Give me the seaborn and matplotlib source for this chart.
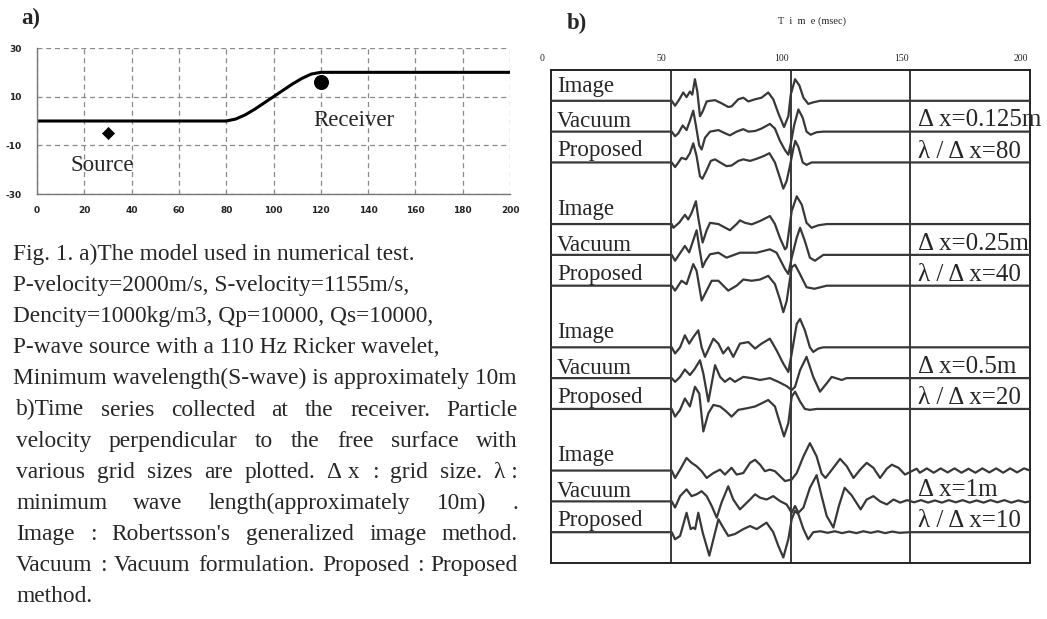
import matplotlib
matplotlib.use("Agg")
import matplotlib.pyplot as plt
import seaborn as sns
from matplotlib.transforms import ScaledTranslation

sns.set_style("white")
plt.rcParams['font.family'] = ['Liberation Serif', 'DejaVu Serif']
plt.rcParams['axes.unicode_minus'] = False

W, H = 1047, 619

# ---------------- panel a : model ----------------
surface_x = [0, 80, 84, 88, 92, 96, 100, 104, 108, 112, 116, 120, 200]
surface_y = [0, 0, 0.8, 2.5, 4.8, 7.4, 10, 12.6, 15.2, 17.5, 19.3, 20, 20]
source_x, source_y = [30], [-5]
receiver_x, receiver_y = [120], [16]
model_xticks = [0, 20, 40, 60, 80, 100, 120, 140, 160, 180, 200]
model_yticks = [-30, -10, 10, 30]

# ---------------- panel b : time series (t in msec, relative amplitude) ----------------
time_ticks = [0, 50, 100, 150, 200]
trace_names = ["Image", "Vacuum", "Proposed"]
grid_labels = ["Δ x=0.125m", "Δ x=0.25m", "Δ x=0.5m", "Δ x=1m"]
ratio_labels = ["λ / Δ x=80", "λ / Δ x=40", "λ / Δ x=20", "λ / Δ x=10"]

g1_image = [(0, 0), (50.4, 0), (51.8, -0.16), (53.6, 0.05), (55.2, 0.27), (56.6, 0.12), (58.0, 0.30),
            (59.0, 0.2), (60.1, 0.70), (61.1, 0.3), (62.2, -0.5), (63.3, -0.35), (65.0, -0.02),
            (66.4, 0.0), (68.5, 0.02), (71.2, -0.08), (74.0, -0.2), (75.4, -0.18), (78.2, 0.05),
            (80.3, 0.1), (82.4, -0.02), (85.2, 0.05), (87.9, 0.1), (90.7, 0.27), (92.8, 0.05),
            (94.9, -0.4), (97.3, -0.85), (99.1, -0.5), (100.1, 0.2), (101.9, 0.70), (103.7, 0.5),
            (105.4, 0.1), (107.4, -0.1), (109.5, -0.05), (112.3, 0.0), (200, 0)]
g1_vacuum = [(0, 0), (50.4, 0), (51.8, -0.15), (53.2, -0.05), (55.0, 0.2), (56.6, 0.05), (58.0, 0.35),
             (59.4, 0.68), (60.5, 0.2), (61.9, -0.45), (62.9, -0.58), (64.3, -0.2), (66.4, 0.0),
             (69.9, 0.05), (72.6, -0.05), (74.7, -0.12), (77.5, 0.0), (80.3, 0.08), (82.4, 0.0),
             (85.2, 0.02), (87.9, 0.1), (91.4, 0.25), (93.5, 0.1), (95.6, -0.3), (97.7, -0.6),
             (99.1, -0.75), (100.1, -0.4), (101.5, 0.2), (103.3, 0.72), (105.1, 0.45), (106.7, 0.0),
             (108.4, -0.1), (110.9, -0.02), (113.7, 0), (200, 0)]
g1_proposed = [(0, 0), (50.4, 0), (51.8, -0.15), (53.2, 0.0), (54.5, 0.15), (56.4, 0.1), (58.0, 0.3),
               (59.4, 0.62), (60.8, 0.2), (62.2, -0.45), (63.2, -0.53), (65.0, -0.25), (66.7, 0.05),
               (68.5, 0.1), (70.6, 0.0), (73.3, -0.12), (75.4, -0.1), (78.2, 0.05), (80.3, 0.1),
               (83.1, 0.05), (85.9, 0.12), (88.6, 0.2), (91.2, 0.3), (93.5, 0.0), (95.6, -0.5),
               (97.0, -0.85), (98.4, -0.6), (99.8, -0.1), (101.2, 0.45), (102.0, 0.7), (103.3, 0.5),
               (105.1, 0.0), (106.7, -0.08), (108.8, 0.0), (200, 0)]

g2_image = [(0, 0), (50.4, 0), (51.1, -0.12), (53.6, 0.05), (55.9, 0.3), (57.3, 0.15), (58.7, 0.36),
            (60.5, 0.74), (61.5, 0.2), (63.3, -0.6), (65.0, -0.2), (66.4, 0.04), (69.9, 0.0),
            (74.7, -0.2), (77.5, 0.0), (78.9, 0.12), (81.0, 0.04), (83.8, -0.01), (87.3, 0.1),
            (91.4, 0.26), (93.5, 0.0), (95.6, -0.45), (97.7, -0.82), (98.4, -0.76), (100.5, 0.42),
            (102.6, 0.9), (104.7, 0.63), (106.7, 0.04), (108.8, -0.12), (111.6, -0.04), (115.1, 0),
            (200, 0)]
g2_vacuum = [(0, 0), (50.4, 0), (51.8, -0.19), (55.9, 0.29), (57.7, 0.08), (60.8, 0.8), (62.0, 0.2),
             (63.3, -0.4), (64.5, -0.2), (66.4, 0.02), (69.9, 0.07), (73.3, -0.09), (78.9, 0.07),
             (81.7, 0.07), (85.9, 0.07), (91.4, 0.18), (94.2, 0.07), (97.7, -0.46), (99.1, -0.62),
             (100.5, -0.09), (102.6, 0.56), (104.0, 0.88), (106.0, 0.45), (108.1, -0.09),
             (110.2, -0.19), (113.7, 0), (200, 0)]
g2_proposed = [(0, 0), (50.4, 0), (51.8, -0.16), (54.5, 0.16), (56.6, 0.05), (59.4, 0.7), (60.8, 0.48),
               (62.9, -0.48), (65.0, -0.16), (67.1, 0.16), (69.9, 0.16), (74.0, -0.16), (77.5, 0.0),
               (80.3, 0.2), (83.8, 0.16), (87.3, 0.2), (90.7, 0.32), (93.5, 0.05), (95.6, -0.45),
               (97.0, -0.86), (98.4, -0.5), (100.5, 0.6), (101.9, 0.68), (104.0, 0.37), (106.7, -0.05),
               (110.0, -0.1), (115.1, 0), (200, 0)]

g3_image = [(0, 0), (50.4, 0), (51.8, -0.2), (53.9, 0.0), (55.9, 0.39), (57.7, 0.12), (59.4, 0.33),
            (61.5, 0.55), (62.9, 0.0), (64.3, -0.31), (67.8, 0.28), (69.9, 0.12), (71.9, -0.2),
            (74.0, 0.0), (76.1, -0.31), (78.9, 0.12), (82.4, 0.17), (85.2, -0.04), (87.9, 0.12),
            (91.4, 0.28), (94.2, -0.1), (97.0, -0.53), (99.1, -0.8), (100.5, -0.2), (102.6, 0.76),
            (104.0, 0.92), (106.0, 0.55), (108.1, 0.0), (109.5, -0.15), (111.6, -0.04), (113.7, 0),
            (200, 0)]
g3_vacuum = [(0, 0), (50.4, 0), (51.8, -0.12), (53.9, 0.04), (55.9, 0.28), (58.0, 0.1), (60.1, 0.31),
             (62.2, 0.58), (63.6, 0.15), (65.7, -0.76), (68.5, 0.42), (70.6, 0.04), (72.6, -0.12),
             (74.7, 0.0), (76.8, -0.12), (80.3, 0.04), (83.8, 0.0), (87.3, -0.06), (91.4, 0.0),
             (94.9, -0.12), (98.4, -0.26), (100.5, -0.39), (101.9, -0.28), (104.0, 0.26),
             (106.7, 0.69), (109.5, 0.04), (112.3, -0.44), (115.1, -0.17), (117.2, 0.04),
             (121.4, -0.06), (123.4, 0), (200, 0)]
g3_proposed = [(0, 0), (50.4, 0), (51.8, -0.25), (53.9, -0.03), (55.9, 0.34), (58.0, 0.08), (60.1, 0.72),
               (61.9, 0.5), (63.6, -0.73), (65.7, -0.14), (67.8, 0.13), (70.6, 0.08), (73.3, -0.09),
               (75.4, -0.25), (78.2, -0.03), (81.7, 0.02), (85.2, 0.08), (87.9, 0.18), (90.7, 0.29),
               (93.5, 0.08), (95.6, -0.46), (97.3, -0.89), (99.1, -0.46), (100.5, 0.4), (101.9, 0.56),
               (104.0, 0.24), (106.0, 0.0), (108.1, -0.03), (110.9, 0), (200, 0)]

g4_image = [(0, 0), (50.4, 0), (51.8, -0.24), (53.9, 0.03), (56.6, 0.41), (58.7, 0.25), (60.8, 0.14),
            (62.9, -0.02), (65.0, -0.24), (67.8, -0.08), (70.6, 0.03), (72.6, -0.13), (75.4, 0.09),
            (77.5, -0.13), (80.3, -0.08), (83.1, 0.25), (85.2, 0.35), (87.3, 0.19), (89.3, -0.02),
            (91.4, 0.03), (93.5, -0.02), (95.6, -0.18), (97.7, -0.34), (100.5, -0.29), (102.6, -0.08),
            (105.4, 0.46), (108.1, 0.89), (110.9, 0.46), (113.0, -0.1), (114.6, -0.24), (117.5, 0.05),
            (120.7, 0.38), (123.5, 0.14), (126.3, -0.24), (129.1, 0.03), (131.8, 0.25), (134.6, 0.09),
            (137.4, -0.24), (140.2, 0.06), (142.3, 0.19), (145.1, 0.09), (147.8, -0.13), (150.6, -0.02),
            (152.7, 0.06), (154.0, -0.07), (156.9, 0.07), (159.8, -0.07), (162.7, 0.07), (165.6, -0.06),
            (168.5, 0.07), (171.4, -0.07), (174.3, 0.06), (177.2, -0.07), (180.1, 0.07), (183.0, -0.06),
            (185.9, 0.07), (188.8, -0.07), (191.7, 0.07), (194.6, -0.06), (197.5, 0.07), (200, 0.0)]
g4_vacuum = [(0, 0), (50.4, 0), (51.8, -0.2), (53.9, 0.17), (56.6, 0.39), (58.7, 0.17), (60.8, 0.23),
             (62.9, 0.33), (65.0, 0.17), (67.1, -0.15), (69.2, -0.53), (71.2, -0.04), (74.0, 0.49),
             (76.1, 0.06), (78.9, -0.26), (81.0, -0.1), (83.1, 0.06), (85.2, 0.23), (87.3, 0.12),
             (90.0, 0.06), (92.8, 0.17), (95.6, 0.01), (98.4, -0.1), (100.5, -0.37), (101.9, -0.15),
             (103.3, -0.37), (105.4, -0.2), (108.1, 0.44), (110.9, 0.85), (113.0, 0.17), (115.1, -0.47),
             (117.9, -0.85), (120.2, -0.15), (122.6, 0.44), (125.5, 0.2), (129.3, -0.26), (131.8, 0.06),
             (134.6, 0.17), (137.4, 0.0), (140.2, -0.1), (143.0, 0.06), (145.8, -0.04), (148.7, 0.04),
             (151.6, -0.03), (154.5, 0.04), (157.4, -0.04), (160.3, 0.03), (163.2, -0.04), (166.1, 0.04),
             (169.0, -0.03), (171.9, 0.04), (174.8, -0.04), (177.7, 0.03), (180.6, -0.04), (183.5, 0.04),
             (186.4, -0.03), (189.3, 0.04), (192.2, -0.04), (195.1, 0.03), (198.0, -0.03), (200, 0.0)]
g4_proposed = [(0, 0), (50.4, 0), (51.8, -0.23), (53.9, -0.12), (56.6, 0.63), (58.3, 0.1), (59.4, 0.15),
               (60.2, 0.1), (61.5, 0.63), (63.3, 0.0), (66.1, -0.76), (67.8, -0.23), (69.9, 0.42),
               (71.9, 0.15), (74.0, -0.12), (76.8, -0.06), (80.3, 0.1), (83.1, 0.2), (85.9, 0.1),
               (90.0, 0.31), (92.8, 0.0), (94.9, -0.44), (97.0, -0.82), (99.1, -0.23), (100.5, 0.42),
               (101.9, 0.69), (103.3, 0.58), (105.4, 0.1), (107.4, -0.23), (109.5, 0.0), (112.5, 0.03),
               (115.5, -0.02), (118.5, 0.03), (121.5, -0.03), (124.5, 0.02), (127.5, -0.03),
               (130.5, 0.03), (133.5, -0.02), (136.5, 0.03), (139.5, -0.03), (142.5, 0.02),
               (145.5, -0.02), (150, 0.0), (200, 0.0)]

groups = [
    [g1_image, g1_vacuum, g1_proposed],
    [g2_image, g2_vacuum, g2_proposed],
    [g3_image, g3_vacuum, g3_proposed],
    [g4_image, g4_vacuum, g4_proposed],
]

caption_lines = [
    "Fig. 1. a)The model used in numerical test.",
    "P-velocity=2000m/s, S-velocity=1155m/s,",
    "Dencity=1000kg/m3, Qp=10000, Qs=10000,",
    "P-wave source with a 110 Hz Ricker wavelet,",
    "Minimum wavelength(S-wave) is approximately 10m",
    "b)Time series collected at the receiver. Particle",
    "velocity perpendicular to the free surface with",
    "various grid sizes are plotted. Δ\u00a0x : grid size. λ\u00a0:",
    "minimum wave length(approximately 10m) .",
    "Image : Robertsson's generalized image method.",
    "Vacuum : Vacuum formulation. Proposed : Proposed",
    "method.",
]
caption_justified = [False] * 5 + [True] * 6 + [False]

fig = plt.figure(figsize=(W / 100, H / 100), dpi=100)

# ---- panel a
axa = fig.add_axes([37 / W, 1 - 194 / H, 473 / W, 146 / H])
sns.lineplot(x=surface_x, y=surface_y, ax=axa, color="black", lw=2.2,
             estimator=None, sort=False)
sns.scatterplot(x=source_x, y=source_y, ax=axa, marker="D", s=38, color="black",
                edgecolor="black", zorder=5)
sns.scatterplot(x=receiver_x, y=receiver_y, ax=axa, marker="o", s=100, color="black",
                edgecolor="black", zorder=5)
axa.set_xlim(0, 200)
axa.set_ylim(-30, 30)
axa.set_xticks(model_xticks)
axa.set_yticks(model_yticks)
axa.grid(True, ls=(0, (4, 3)), color="#8a8a8a", lw=0.9)
for s in ["top", "right"]:
    axa.spines[s].set_visible(False)
for s in ["left", "bottom"]:
    axa.spines[s].set_color("#777777")
    axa.spines[s].set_linewidth(1.0)
axa.tick_params(length=0, labelsize=6.5, colors="#222222")
axa.tick_params(axis="x", pad=9)
axa.tick_params(axis="y", pad=11)
for lab in axa.get_xticklabels() + axa.get_yticklabels():
    lab.set_family("DejaVu Sans")
    lab.set_weight("bold")
axa.text(117, -2.2, "Receiver", fontsize=16.5, va="baseline")
axa.text(14, -20.6, "Source", fontsize=16.5, va="baseline")
fig.text(21 / W, 1 - 24 / H, "a)", fontsize=16.5, weight="bold", va="baseline")

# ---- panel b
axb = fig.add_axes([551 / W, 1 - 563 / H, 479 / W, 493 / H])
for t in time_ticks[1:-1]:
    axb.axvline(t, color="#2a2a2a", lw=1.3, zorder=1)
label_offsets = [0.3, 0.14, 0.2]
for g, traces in enumerate(groups):
    for r, tr in enumerate(traces):
        base = -(1 + 4 * g + r)
        sns.lineplot(x=[p[0] for p in tr], y=[base + p[1] for p in tr], ax=axb,
                     color="#383838", lw=1.6, estimator=None, sort=False, zorder=3)
        axb.text(2.5, base + label_offsets[r], trace_names[r], fontsize=16.5,
                 va="baseline", zorder=4)
    axb.text(153.2, -(2 + 4 * g) + 0.17, grid_labels[g], fontsize=18,
             va="baseline", zorder=4, clip_on=False)
    axb.text(153.2, -(3 + 4 * g) + 0.16, ratio_labels[g], fontsize=18,
             va="baseline", zorder=4)
axb.set_xlim(0, 200)
axb.set_ylim(-16, 0)
axb.set_yticks([])
axb.xaxis.tick_top()
axb.set_xticks(time_ticks)
axb.tick_params(axis="x", length=0, pad=5, labelsize=7, colors="#222222")
shift = ScaledTranslation(-9 / 100, 0, fig.dpi_scale_trans)
for lab in axb.get_xticklabels():
    lab.set_transform(lab.get_transform() + shift)
for s in axb.spines.values():
    s.set_color("#222222")
    s.set_linewidth(1.4)
axb.text((812 - 551) / 479, 1 + 49 / 493, "T  i  m  e (msec)", transform=axb.transAxes,
         fontsize=7.5, ha="center", va="center")
fig.text(567 / W, 1 - 29 / H, "b)", fontsize=16.5, weight="bold", va="baseline")

# ---- caption (first lines left aligned, the rest justified)
renderer = fig.canvas.get_renderer()
for i, (line, just) in enumerate(zip(caption_lines, caption_justified)):
    y = 1 - (260 + i * 31.1) / H
    if not just:
        x0 = 13 if i < 5 else 16
        fig.text(x0 / W, y, line, fontsize=16.8, va="baseline")
        continue
    x0, x1 = 16, 518
    words = line.split(" ")
    objs = [fig.text(0, y, w, fontsize=16.8, va="baseline") for w in words]
    widths = [o.get_window_extent(renderer).width for o in objs]
    gap = (x1 - x0 - sum(widths)) / (len(words) - 1)
    x = x0
    for o, w in zip(objs, widths):
        o.set_x(x / W)
        x += w + gap

fig.savefig("out.png", dpi=100)
